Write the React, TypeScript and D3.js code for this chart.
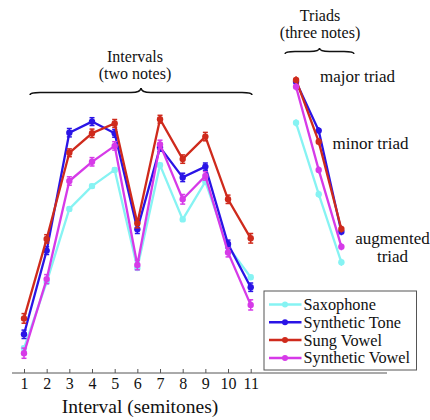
import * as d3 from "d3";
import { useRef, useEffect } from "react";

// interval positions (semitones) and triad positions on the same x scale
const intervals = [1, 2, 3, 4, 5, 6, 7, 8, 9, 10, 11];
const triadPos = [13, 14, 15];
const triadNames = ["major triad", "minor triad", "augmented triad"];

const seriesNames = ["Saxophone", "Synthetic Tone", "Sung Vowel", "Synthetic Vowel"];
const seriesColors = ["#86f3f3", "#2a14e6", "#cf2a1c", "#d63ae8"];

// rating (0..1) for each interval
const saxophone = [0.083, 0.303, 0.547, 0.623, 0.677, 0.35, 0.693, 0.512, 0.638, 0.421, 0.319];
const syntheticTone = [0.129, 0.408, 0.801, 0.838, 0.799, 0.479, 0.752, 0.652, 0.688, 0.43, 0.286];
const sungVowel = [0.182, 0.447, 0.734, 0.799, 0.832, 0.499, 0.846, 0.713, 0.788, 0.579, 0.449];
const syntheticVowel = [0.066, 0.313, 0.64, 0.704, 0.757, 0.36, 0.762, 0.579, 0.657, 0.402, 0.227];

// standard errors
const saxophoneErr = [0.006, 0.006, 0.006, 0.006, 0.006, 0.006, 0.006, 0.006, 0.006, 0.006, 0.006];
const syntheticToneErr = [0.014, 0.013, 0.014, 0.013, 0.013, 0.014, 0.013, 0.014, 0.012, 0.013, 0.014];
const sungVowelErr = [0.016, 0.014, 0.013, 0.014, 0.013, 0.015, 0.013, 0.014, 0.014, 0.014, 0.016];
const syntheticVowelErr = [0.017, 0.015, 0.014, 0.014, 0.014, 0.016, 0.014, 0.016, 0.014, 0.015, 0.017];

// triads: major, minor, augmented
const saxophoneTriads = [0.834, 0.596, 0.369];
const syntheticToneTriads = [0.971, 0.808, 0.471];
const sungVowelTriads = [0.977, 0.771, 0.48];
const syntheticVowelTriads = [0.954, 0.677, 0.421];
const triadErr = [0.012, 0.012, 0.012];

const font = "'Liberation Serif', 'Times New Roman', serif";

function brace(x1: number, x2: number, y: number, tip: number, end: number) {
  const xm = (x1 + x2) / 2;
  const r = 10;
  return `M${x1},${y + end} Q${x1},${y} ${x1 + r},${y} L${xm - r},${y} Q${xm},${y} ${xm},${y - tip} Q${xm},${y} ${xm + r},${y} L${x2 - r},${y} Q${x2},${y} ${x2},${y + end}`;
}

export default function App() {
  const gx = useRef<SVGGElement>(null);
  const width = 430;
  const height = 420;

  const x = d3.scaleLinear().domain([1, 11]).range([24, 250.7]);
  const y = d3.scaleLinear().domain([0, 1]).range([373, 73]);
  const axisY = 373;

  const series = [
    { vals: saxophone, err: saxophoneErr, tri: saxophoneTriads },
    { vals: syntheticTone, err: syntheticToneErr, tri: syntheticToneTriads },
    { vals: sungVowel, err: sungVowelErr, tri: sungVowelTriads },
    { vals: syntheticVowel, err: syntheticVowelErr, tri: syntheticVowelTriads },
  ];

  const line = d3
    .line<[number, number]>()
    .x((d) => x(d[0]))
    .y((d) => y(d[1]));

  useEffect(() => {
    const g = d3.select(gx.current);
    g.call(
      d3
        .axisBottom(x)
        .tickValues(intervals)
        .tickFormat(d3.format("d"))
        .tickSizeInner(-4)
        .tickSizeOuter(0)
        .tickPadding(5)
    );
    g.select(".domain").remove();
    g.selectAll(".tick line").attr("stroke", "#555");
    g.selectAll(".tick text")
      .attr("fill", "#111")
      .style("font-family", font)
      .style("font-size", "16px");
  }, []);

  const legendX = 264;
  const legendY = 291;
  const legendRows = [304.5, 322.3, 340.1, 357.9];

  return (
    <div style={{ position: "fixed", left: 0, top: 0 }}>
      <svg width={width} height={height} style={{ display: "block", background: "#fff" }}>
        {/* annotations */}
        <g fontFamily={font} fill="#111" textAnchor="middle" fontSize={16}>
          <text x={135} y={61.5}>Intervals</text>
          <text x={135} y={78.5}>(two notes)</text>
          <text x={320} y={20.5}>Triads</text>
          <text x={320} y={37.5}>(three notes)</text>
        </g>
        <path d={brace(30, 252, 92.5, 4.5, 2.5)} fill="none" stroke="#111" strokeWidth={1.6} />
        <path d={brace(285, 354, 51.5, 3.5, 2.5)} fill="none" stroke="#111" strokeWidth={1.4} />

        <g fontFamily={font} fill="#111" fontSize={17}>
          <text x={320} y={82}>{triadNames[0]}</text>
          <text x={332.5} y={149}>{triadNames[1]}</text>
          <text x={392.5} y={244} textAnchor="middle">augmented</text>
          <text x={392.5} y={261.5} textAnchor="middle">triad</text>
        </g>

        {/* axis */}
        <line x1={12} x2={387} y1={axisY} y2={axisY} stroke="#555" strokeWidth={1} />
        <g ref={gx} transform={`translate(0,${axisY})`} />
        <text x={140} y={412.5} textAnchor="middle" fontFamily={font} fontSize={19.5} fill="#111">
          Interval (semitones)
        </text>

        {/* series */}
        {series.map((s, i) => {
          const c = seriesColors[i];
          const pts: [number, number][] = s.vals.map((v, j) => [intervals[j], v]);
          const tpts: [number, number][] = s.tri.map((v, j) => [triadPos[j], v]);
          return (
            <g key={i} stroke={c} fill={c}>
              <path d={line(pts) ?? ""} fill="none" strokeWidth={2.3} />
              <path d={line(tpts) ?? ""} fill="none" strokeWidth={2.3} />
              {pts.map((d, j) => {
                const e = s.err[j];
                return (
                  <g key={j} strokeWidth={1.5}>
                    <line x1={x(d[0])} x2={x(d[0])} y1={y(d[1] - e)} y2={y(d[1] + e)} />
                    <line x1={x(d[0]) - 2.5} x2={x(d[0]) + 2.5} y1={y(d[1] - e)} y2={y(d[1] - e)} />
                    <line x1={x(d[0]) - 2.5} x2={x(d[0]) + 2.5} y1={y(d[1] + e)} y2={y(d[1] + e)} />
                    <circle cx={x(d[0])} cy={y(d[1])} r={3.2} stroke="none" />
                  </g>
                );
              })}
              {tpts.map((d, j) => (
                <g key={"t" + j} strokeWidth={1.5}>
                  <line x1={x(d[0])} x2={x(d[0])} y1={y(d[1] - triadErr[j])} y2={y(d[1] + triadErr[j])} />
                  <circle cx={x(d[0])} cy={y(d[1])} r={3.2} stroke="none" />
                </g>
              ))}
            </g>
          );
        })}

        {/* legend */}
        <rect
          x={legendX}
          y={legendY}
          width={152.5}
          height={79}
          fill="#fff"
          stroke="#555"
          strokeWidth={1}
        />
        {seriesNames.map((n, i) => (
          <g key={n}>
            <line x1={269} x2={301.5} y1={legendRows[i]} y2={legendRows[i]} stroke={seriesColors[i]} strokeWidth={2.5} />
            <circle cx={285} cy={legendRows[i]} r={3} fill={seriesColors[i]} />
            <text x={303.5} y={legendRows[i] + 5.5} fontFamily={font} fontSize={16.3} fill="#111">
              {n}
            </text>
          </g>
        ))}
      </svg>
    </div>
  );
}
